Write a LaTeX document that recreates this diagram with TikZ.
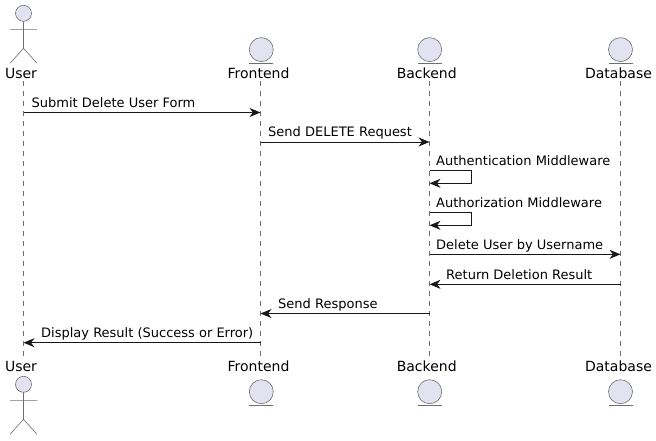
\documentclass[tikz,border=0pt]{standalone}
\usepackage{fontspec}
\setmainfont{DejaVu Sans}
\usetikzlibrary{arrows.meta}
\definecolor{partfill}{HTML}{E2E2F0}
\definecolor{partline}{HTML}{181818}
\definecolor{thinline}{HTML}{6E6E6E}
\tikzset{
    partname/.style={inner sep=0pt,font=\fontsize{14}{16}\selectfont,anchor=base},
    msglabel/.style={inner sep=0pt,font=\fontsize{13}{15}\selectfont,anchor=base west},
    msg/.style={draw=partline,line width=0.9pt,-{Stealth[length=11pt,width=9pt,inset=3.5pt]}},
    lifeline/.style={draw=thinline,line width=0.5pt,dash pattern=on 5pt off 5pt},
    partshape/.style={draw=thinline,line width=0.6pt,fill=partfill}
}
\begin{document}
\begin{tikzpicture}[x=1pt,y=-1pt]
    \useasboundingbox (0,0) rectangle (656,440);
    % lifeline ends
    \coordinate (userTop) at (23.5,81);
    \coordinate (userBot) at (23.5,357);
    \coordinate (frontTop) at (260.5,81);
    \coordinate (frontBot) at (260.5,357);
    \coordinate (backTop) at (429.5,81);
    \coordinate (backBot) at (429.5,357);
    \coordinate (dbTop) at (620.5,81);
    \coordinate (dbBot) at (620.5,357);
    \foreach \who in {user,front,back,db}
        \draw[lifeline] (\who Top) -- (\who Bot);
    % names
    \foreach \who/\txt/\xpos in {user/User/21,front/Frontend/258.5,back/Backend/426.7,db/Database/618.5} {
        \node[partname] (\who NameTop) at (\xpos,78) {\txt};
        \node[partname] (\who NameBot) at (\xpos,371.5) {\txt};
    }
    % actor
    \foreach \ya/\yb/\yc/\yd/\ye in {13.3/21.3/29.3/48.3/63.3,384.3/392.3/400.3/419.3/434.3} {
        \draw[partshape] (23.5,\ya) circle (8);
        \draw[thinline,line width=0.6pt] (23.5,\yb) -- (23.5,\yd) (10,\yc) -- (37,\yc)
            (10,\ye) -- (23.5,\yd) -- (37,\ye);
    }
    % entities
    \foreach \xc in {261.3,429.7,620.5}
        \foreach \yc/\yl in {49.6/63.3,391.7/405.3} {
            \draw[partshape] (\xc,\yc) circle (12);
            \draw[thinline,line width=0.6pt] (\xc-12,\yl) -- (\xc+12,\yl);
        }
    % message ends
    \coordinate (m1a) at (23.5,112.5);
    \coordinate (m1b) at (260.5,112.5);
    \coordinate (m2a) at (260.5,142);
    \coordinate (m2b) at (429.5,142);
    \coordinate (m3a) at (429.5,170.3);
    \coordinate (m3b) at (471.7,170.3);
    \coordinate (m3c) at (471.7,183.3);
    \coordinate (m3d) at (429.5,183.3);
    \coordinate (m4a) at (429.5,212.3);
    \coordinate (m4b) at (471.7,212.3);
    \coordinate (m4c) at (471.7,225.3);
    \coordinate (m4d) at (429.5,225.3);
    \coordinate (m5a) at (429.5,254.3);
    \coordinate (m5b) at (620.5,254.3);
    \coordinate (m6a) at (620.5,284.3);
    \coordinate (m6b) at (429.5,284.3);
    \coordinate (m7a) at (429.5,313.5);
    \coordinate (m7b) at (260.5,313.5);
    \coordinate (m8a) at (260.5,342.7);
    \coordinate (m8b) at (23.5,342.7);
    \draw[msg] (m1a) -- (m1b);
    \draw[msg] (m2a) -- (m2b);
    \draw[msg] (m3a) -- (m3b) -- (m3c) -- (m3d);
    \draw[msg] (m4a) -- (m4b) -- (m4c) -- (m4d);
    \draw[msg] (m5a) -- (m5b);
    \draw[msg] (m6a) -- (m6b);
    \draw[msg] (m7a) -- (m7b);
    \draw[msg] (m8a) -- (m8b);
    % message labels
    \node[msglabel] (m1text) at (31.5,107.5) {Submit Delete User Form};
    \node[msglabel] (m2text) at (268,136.5) {Send DELETE Request};
    \node[msglabel] (m3text) at (436,165.5) {Authentication Middleware};
    \node[msglabel] (m4text) at (436,207.5) {Authorization Middleware};
    \node[msglabel] (m5text) at (436,249.5) {Delete User by Username};
    \node[msglabel] (m6text) at (446,279) {Return Deletion Result};
    \node[msglabel] (m7text) at (278,308) {Send Response};
    \node[msglabel] (m8text) at (41,337.5) {Display Result (Success or Error)};
\end{tikzpicture}
\end{document}
